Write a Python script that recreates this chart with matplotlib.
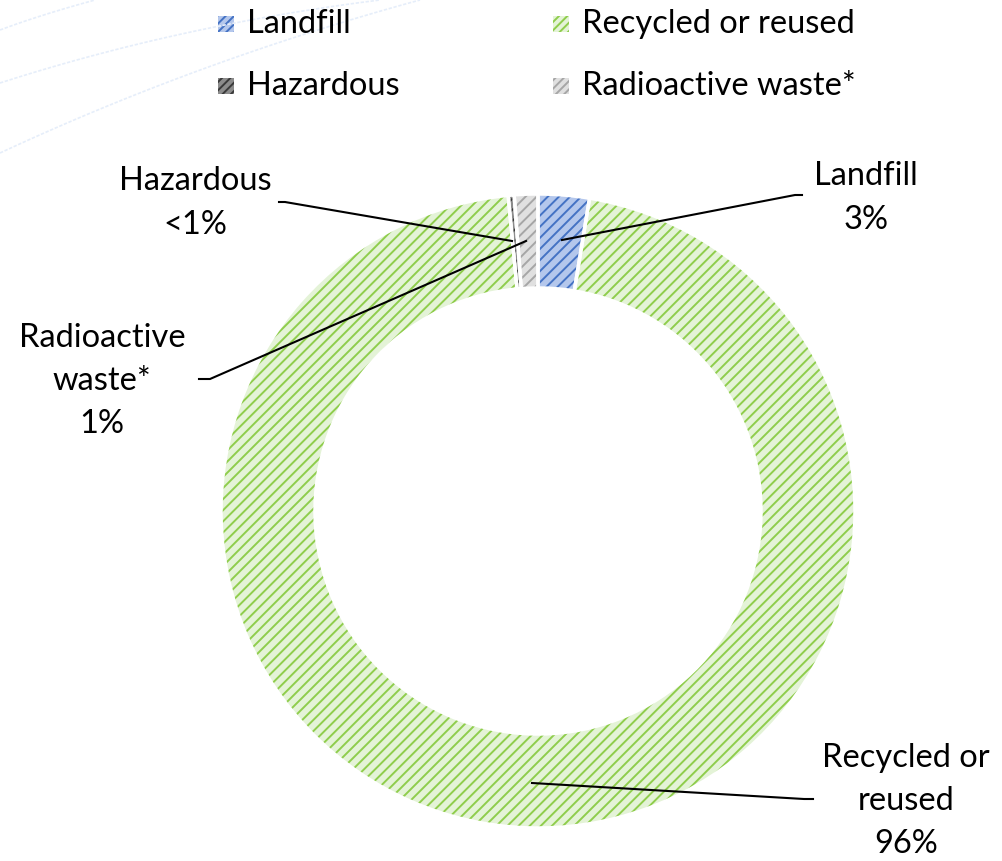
import matplotlib.pyplot as plt
import numpy as np
from matplotlib.patches import Rectangle

# dados da figura (leitura aproximada do grafico)
categorias = ["Landfill", "Recycled or reused", "Hazardous", "Radioactive waste*"]
valores = [2.6, 95.9, 0.3, 1.2]
rotulos = ["Landfill\n3%", "Recycled or\nreused\n96%", "Hazardous\n<1%", "Radioactive\nwaste*\n1%"]
cores_fundo = ["#b4c7ec", "#e4f3d7", "#8c8c8c", "#e0e0e0"]
cores_hachura = ["#4472c4", "#8fcd4c", "#3a3a3a", "#a6a6a6"]

W, H = 1003, 861
plt.rcParams['font.family'] = ['Lato', 'DejaVu Sans']
plt.rcParams['hatch.linewidth'] = 1.4

fig = plt.figure(figsize=(W / 100, H / 100), dpi=100)
ax = fig.add_axes([0, 0, 1, 1])

# converte coordenada de pixel (y para baixo) para o eixo
def px(x, y):
    return x, H - y

# linhas decorativas do fundo (canto superior esquerdo)
for p0, p1, p2 in [((0, 30), (40, 15), (95, 0)),
                   ((0, 83), (180, 25), (380, 0)),
                   ((0, 153), (200, 60), (420, 0))]:
    t = np.linspace(0, 1, 60)
    xs = (1 - t) ** 2 * p0[0] + 2 * (1 - t) * t * p1[0] + t ** 2 * p2[0]
    ys = (1 - t) ** 2 * p0[1] + 2 * (1 - t) * t * p1[1] + t ** 2 * p2[1]
    ax.plot(xs, H - ys, color="#e6eefa", lw=1.2, ls=(0, (2, 1)))

centro = px(538, 511)
raio = 317
largura = 94

# camada de hachura
wedges, _ = ax.pie(valores, startangle=90, counterclock=False, center=centro, radius=raio,
                   colors=cores_fundo, wedgeprops=dict(width=largura, linewidth=0), frame=True)
for w, hc in zip(wedges, cores_hachura):
    w.set_hatch("///")
    w.set_edgecolor(hc)
    w.set_linewidth(0)

# bordas brancas entre as fatias
ax.pie(valores, startangle=90, counterclock=False, center=centro, radius=raio,
       colors=["none"] * 4, wedgeprops=dict(width=largura, edgecolor="white", linewidth=2.5), frame=True)

# linhas de chamada e rotulos
linhas = [
    [(562, 240), (795, 195), (802, 195)],
    [(532, 783), (804, 799), (813, 799)],
    [(512, 241), (285, 202), (279, 202)],
    [(526, 241), (210, 379), (199, 379)],
]
pos_rotulos = [(866, 198), (906, 801), (195, 203), (102, 381)]
for pts, (lx, ly), txt in zip(linhas, pos_rotulos, rotulos):
    xs = [p[0] for p in pts]
    ys = [H - p[1] for p in pts]
    ax.plot(xs, ys, color="black", lw=1.5)
    ax.text(lx, H - ly, txt, ha="center", va="center", fontsize=23.5, linespacing=1.55)

# legenda manual em duas colunas
pos_legenda = [(218, 24), (553, 24), (218, 86), (553, 86)]
for (x, y), nome, fc, hc in zip(pos_legenda, categorias, cores_fundo, cores_hachura):
    ax.add_patch(Rectangle(px(x, y + 8), 16, 16, facecolor=fc, edgecolor=hc, hatch="////", lw=0))
    ax.text(x + 29, H - y, nome, ha="left", va="center", fontsize=23.5)

ax.set_xlim(0, W)
ax.set_ylim(0, H)
ax.set_aspect("equal")
ax.axis("off")

fig.savefig("out.png", dpi=100)
